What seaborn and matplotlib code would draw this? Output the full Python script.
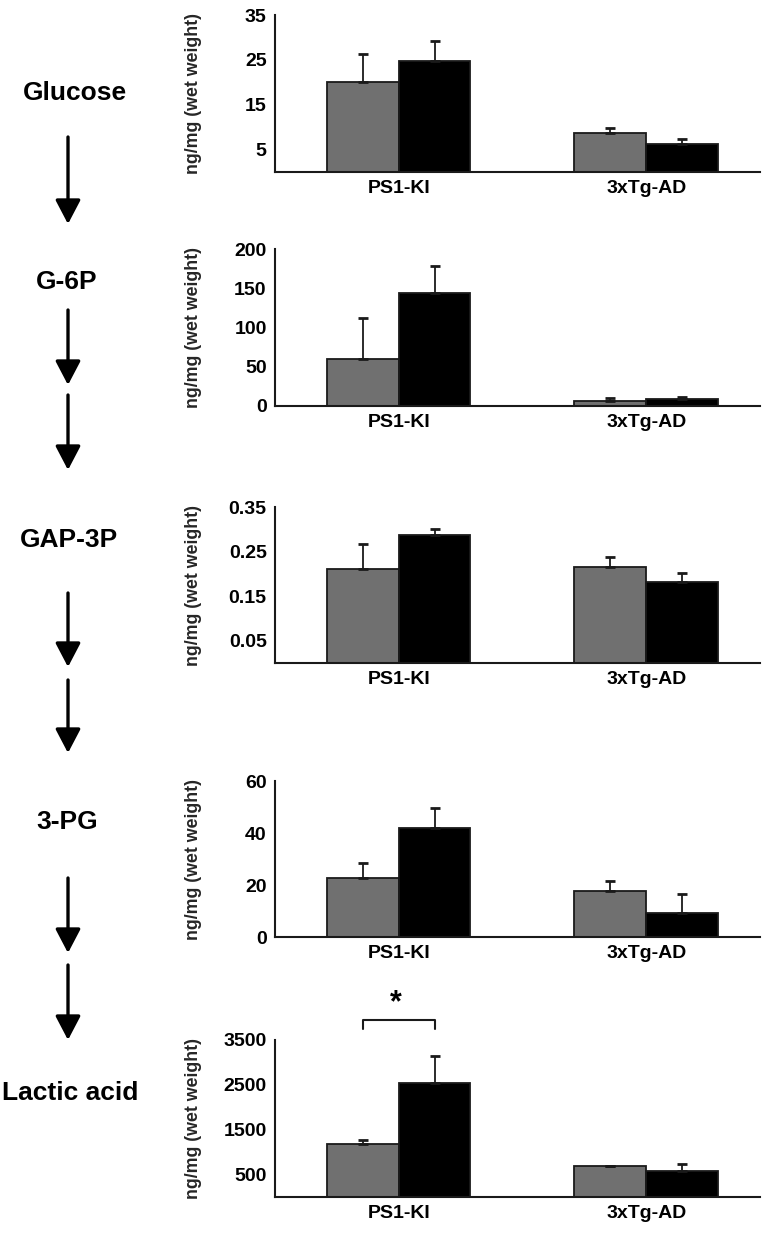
import numpy as np
import pandas as pd
import seaborn as sns
import matplotlib.pyplot as plt

# =========================
# DATA
# =========================
groups = ["PS1-KI", "3xTg-AD"]
series = ["Control", "Transgenic"]
metabolites = ["Glucose", "G-6P", "GAP-3P", "3-PG", "Lactic acid"]

glucose_ctrl = [20.0, 8.8]
glucose_ctrl_err = [6.3, 1.1]
glucose_tg = [24.8, 6.3]
glucose_tg_err = [4.4, 1.1]

g6p_ctrl = [60, 7]
g6p_ctrl_err = [52, 3]
g6p_tg = [144, 9]
g6p_tg_err = [34, 2]

gap_ctrl = [0.212, 0.215]
gap_ctrl_err = [0.056, 0.022]
gap_tg = [0.288, 0.181]
gap_tg_err = [0.013, 0.022]

pg_ctrl = [22.7, 17.7]
pg_ctrl_err = [5.8, 3.8]
pg_tg = [41.9, 9.2]
pg_tg_err = [7.7, 7.3]

lac_ctrl = [1190, 680]
lac_ctrl_err = [90, 20]
lac_tg = [2540, 570]
lac_tg_err = [610, 175]

yticks = [
    [5, 15, 25, 35],
    [0, 50, 100, 150, 200],
    [0.05, 0.15, 0.25, 0.35],
    [0, 20, 40, 60],
    [500, 1500, 2500, 3500],
]
ytick_labels = [
    ["5", "15", "25", "35"],
    ["0", "50", "100", "150", "200"],
    ["0.05", "0.15", "0.25", "0.35"],
    ["0", "20", "40", "60"],
    ["500", "1500", "2500", "3500"],
]
ymax = [35, 200, 0.35, 60, 3500]

panels = [
    (glucose_ctrl, glucose_ctrl_err, glucose_tg, glucose_tg_err),
    (g6p_ctrl, g6p_ctrl_err, g6p_tg, g6p_tg_err),
    (gap_ctrl, gap_ctrl_err, gap_tg, gap_tg_err),
    (pg_ctrl, pg_ctrl_err, pg_tg, pg_tg_err),
    (lac_ctrl, lac_ctrl_err, lac_tg, lac_tg_err),
]

# =========================
# STYLE
# =========================
sns.set_style("white")
plt.rcParams["font.family"] = ["Liberation Sans", "DejaVu Sans"]
plt.rcParams["font.weight"] = "bold"
plt.rcParams["text.color"] = "black"
plt.rcParams["xtick.color"] = "black"
plt.rcParams["ytick.color"] = "black"

W, H = 781, 1233
fig = plt.figure(figsize=(W / 100, H / 100), dpi=100)

# axis boxes in pixels: (top, bottom)
boxes = [(15, 172), (249, 406), (507, 663), (781, 937), (1040, 1197)]
x_left, x_right = 275, 760

palette = {"Control": "#707070", "Transgenic": "#000000"}

for i, (c, ce, t, te) in enumerate(panels):
    top, bot = boxes[i]
    ax = fig.add_axes([x_left / W, 1 - bot / H, (x_right - x_left) / W, (bot - top) / H])

    df = pd.DataFrame({
        "group": groups * 2,
        "series": [series[0]] * 2 + [series[1]] * 2,
        "value": c + t,
        "err": ce + te,
    })

    sns.barplot(
        data=df, x="group", y="value", hue="series",
        order=groups, hue_order=series, palette=palette,
        width=0.58, errorbar=None, edgecolor="#1a1a1a", linewidth=1.3,
        legend=False, ax=ax,
    )

    # one-sided error bars at the bar centres
    for cont, s in zip(ax.containers, series):
        sub = df[df["series"] == s].set_index("group").loc[groups]
        xs = [p.get_x() + p.get_width() / 2 for p in cont.patches]
        ax.errorbar(
            xs, sub["value"], yerr=[np.zeros(len(xs)), sub["err"]],
            fmt="none", ecolor="#1a1a1a", elinewidth=1.3, capsize=3.5, capthick=2.0,
        )

    ax.set_xlim(-0.5, 1.46)
    ax.set_ylim(0, ymax[i])
    ax.set_yticks(yticks[i])
    ax.set_yticklabels(ytick_labels[i], fontsize=14, fontweight="bold")
    ax.set_xticks([0, 1])
    ax.set_xticklabels(groups, fontsize=14, fontweight="bold")
    ax.set_xticks([-0.5, 1.46], minor=True)
    ax.tick_params(axis="x", which="major", length=0, pad=6)
    ax.tick_params(axis="x", which="minor", length=4, width=1.3, direction="out")
    ax.tick_params(axis="y", length=4, width=1.3, direction="out", pad=2)
    ax.set_xlabel("")
    ax.set_ylabel("ng/mg (wet weight)", fontsize=12.8, fontweight="bold")
    ax.yaxis.set_label_coords(-0.15, 0.5)

    sns.despine(ax=ax)
    for side in ["left", "bottom"]:
        ax.spines[side].set_linewidth(1.5)
        ax.spines[side].set_color("#1a1a1a")

    # significance bracket on lactic acid, PS1-KI
    if i == 4:
        p0 = ax.containers[0].patches[0]
        p1 = ax.containers[1].patches[0]
        xa = p0.get_x() + p0.get_width() / 2
        xb = p1.get_x() + p1.get_width() / 2
        ax.plot([xa, xa, xb, xb], [3750, 3950, 3950, 3750], color="#1a1a1a",
                lw=1.5, clip_on=False)
        ax.text((xa + xb) / 2 - 0.01, 3990, "*", ha="center", va="bottom",
                fontsize=22, fontweight="bold", clip_on=False)

# =========================
# PATHWAY COLUMN ON THE LEFT
# =========================
ov = fig.add_axes([0, 0, 1, 1])
ov.set_xlim(0, W)
ov.set_ylim(H, 0)
ov.axis("off")
ov.patch.set_alpha(0)

label_y = [93, 282, 540, 822, 1093]
label_x = [75, 67, 69, 67, 70]
for name, lx, ly in zip(metabolites, label_x, label_y):
    ov.text(lx, ly, name, ha="center", va="center", fontsize=19, fontweight="bold")

arrows = [(137, 224), (310, 385), (395, 470), (593, 667), (680, 753), (878, 953), (965, 1040)]
for y0, y1 in arrows:
    ov.annotate(
        "", xy=(68, y1), xytext=(68, y0),
        arrowprops=dict(arrowstyle="-|>,head_length=1.05,head_width=0.55",
                        lw=2.4, color="black", shrinkA=0, shrinkB=0,
                        mutation_scale=14),
    )

plt.savefig("out.png", dpi=100)
plt.close()
